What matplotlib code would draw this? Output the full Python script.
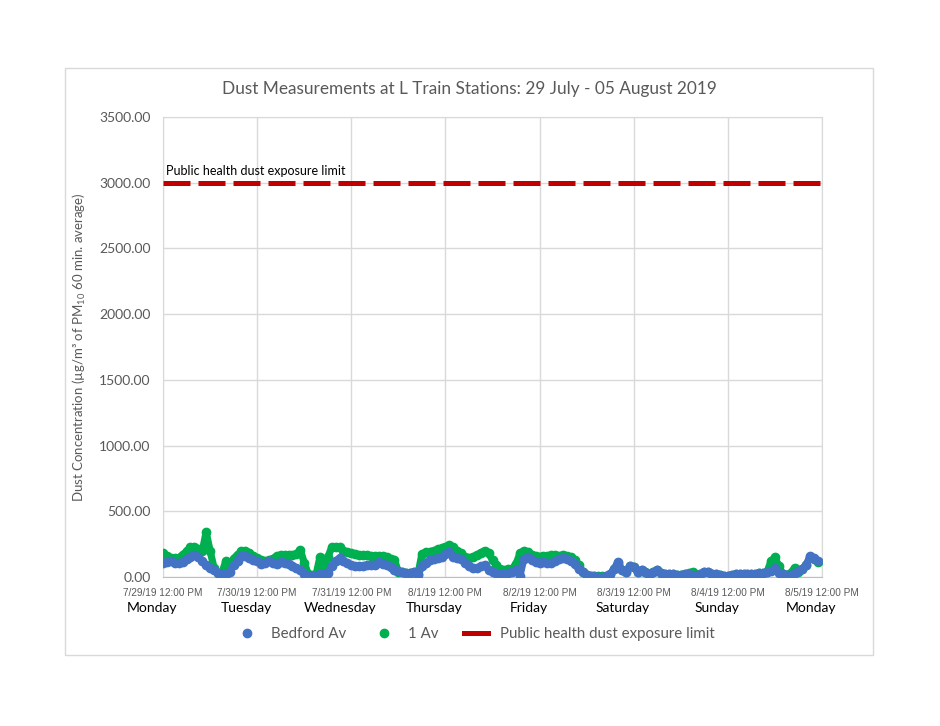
import matplotlib
matplotlib.use("Agg")
import matplotlib.pyplot as plt
import matplotlib.transforms as mtransforms
from matplotlib.lines import Line2D
from matplotlib.patches import Rectangle
import pandas as pd

plt.rcParams["font.family"] = ["Lato", "DejaVu Sans"]
plt.rcParams["mathtext.fontset"] = "custom"
plt.rcParams["mathtext.rm"] = "Lato"
plt.rcParams["mathtext.it"] = "Lato:italic"

# hourly PM10 readings, starting 7/29/19 12:00 PM
bedford_av = [
    110, 115, 118, 110, 105, 115, 135, 155, 168, 150, 120, 92, 70, 50, 32, 22, 20, 40, 90, 125, 158, 160, 145, 130,
    120, 100, 105, 118, 105, 100, 115, 110, 100, 85, 70, 55, 20, 10, 8, 8, 25, 20, 30, 80, 125, 142, 125, 105,
    88, 85, 83, 85, 90, 92, 95, 112, 100, 90, 75, 55, 42, 35, 28, 32, 38, 18, 80, 110, 128, 135, 145, 155,
    175, 190, 155, 145, 135, 110, 85, 66, 70, 80, 90, 55, 35, 28, 25, 20, 30, 40, 50, 10, 140, 150, 130, 115,
    105, 115, 110, 105, 120, 135, 142, 140, 125, 100, 60, 38, 18, 10, 5, 3, 2, 5, 20, 60, 115, 50, 40, 80,
    75, 40, 55, 40, 18, 35, 52, 30, 25, 25, 20, 15, 18, 22, 25, 15, 10, 20, 38, 35, 25, 20, 15, 10,
    10, 15, 20, 20, 20, 22, 22, 25, 28, 30, 38, 45, 65, 30, 20, 18, 15, 30, 45, 60, 95, 160, 145, 120,
]
first_av = [
    180, 160, 145, 142, 145, 170, 195, 225, 230, 215, 195, 340, 200, 70, 30, 28, 120, 80, 140, 170, 195, 200, 185, 160,
    145, 130, 118, 130, 140, 160, 167, 167, 165, 167, 175, 205, 110, 25, 15, 15, 150, 60, 150, 225, 232, 228, 200, 190,
    180, 175, 170, 168, 165, 162, 160, 160, 158, 150, 140, 130, 40, 35, 30, 32, 38, 20, 175, 190, 193, 200, 210, 218,
    230, 240, 225, 200, 180, 150, 142, 155, 167, 185, 200, 180, 130, 90, 60, 53, 58, 62, 100, 180, 200, 190, 170, 160,
    155, 160, 158, 165, 165, 162, 168, 160, 150, 129, 90, 40, 15, 8, 5, 5, 5, 8, 22, 60, 110, 50, 40, 80,
    75, 40, 55, 40, 25, 35, 52, 30, 25, 25, 20, 15, 18, 22, 30, 40, 12, 20, 38, 35, 25, 20, 15, 10,
    10, 15, 20, 20, 20, 22, 22, 25, 28, 30, 40, 120, 150, 80, 25, 18, 30, 70, 40, 60, 95, 150, 135, 115,
]
limit_value = 3000
day_names = ["Monday", "Tuesday", "Wednesday", "Thursday", "Friday", "Saturday", "Sunday", "Monday"]

start = pd.Timestamp("2019-07-29 12:00")
times = pd.date_range(start, periods=len(bedford_av), freq="h")
tick_days = pd.date_range(start, periods=8, freq="D")

grey = "#595959"
grid = "#D9D9D9"

fig = plt.figure(figsize=(9.4, 7.26), dpi=100)
fig.patches.append(Rectangle((65 / 940, 1 - 655 / 726), 808 / 940, 587 / 726,
                             transform=fig.transFigure, fill=False,
                             edgecolor=grid, linewidth=1.0))
ax = fig.add_axes([163 / 940, 1 - 577 / 726, 659 / 940, 460 / 726])

ax.plot(times, first_av, color="#00B050", lw=5.2, marker="o", ms=6,
        solid_capstyle="round", solid_joinstyle="round", zorder=3)
ax.plot(times, bedford_av, color="#4472C4", lw=5.2, marker="o", ms=6,
        solid_capstyle="round", solid_joinstyle="round", zorder=4)
ax.plot([tick_days[0], tick_days[-1]], [limit_value, limit_value],
        color="#C00000", lw=3.6, dashes=(5.4, 1.6), zorder=5)
ax.text(tick_days[0] + pd.Timedelta(hours=0.8), limit_value + 40,
        "Public health dust exposure limit", fontsize=9, color="black", va="bottom")

ax.set_xlim(tick_days[0], tick_days[-1])
ax.set_ylim(0, 3500)
ax.set_yticks(range(0, 3501, 500))
ax.set_yticklabels([f"{v:.2f}" for v in range(0, 3501, 500)])
ax.set_xticks(tick_days)
ax.set_xticklabels([f"{d.month}/{d.day}/{d:%y} 12:00 PM" for d in tick_days],
                   family="Liberation Sans", fontsize=7.2)
ax.tick_params(axis="both", length=0, colors=grey)
ax.tick_params(axis="x", pad=8)
ax.tick_params(axis="y", pad=9, labelsize=10)
ax.grid(True, color=grid, lw=1.0)
ax.set_axisbelow(True)
for s in ax.spines.values():
    s.set_color(grid)
ax.spines["bottom"].set_color("#BFBFBF")

ax.set_ylabel("Dust Concentration (µg/m³ of PM$_{10}$ 60 min. average)",
              fontsize=9.5, color=grey, labelpad=8)

shift = mtransforms.offset_copy(ax.get_xaxis_transform(), fig=fig, x=-11, y=0, units="dots")
for d, name in zip(tick_days, day_names):
    ax.text(d, -0.067, name, transform=shift, ha="center", va="center",
            fontsize=10, color="black")

fig.text(469 / 940, 1 - 89 / 726,
         "Dust Measurements at L Train Stations: 29 July - 05 August 2019",
         ha="center", va="center", fontsize=12.4, color=grey)

handles = [
    Line2D([], [], color="#4472C4", marker="o", ls="none", ms=6),
    Line2D([], [], color="#00B050", marker="o", ls="none", ms=6),
    Line2D([], [], color="#C00000", lw=3.6),
]
fig.legend(handles, ["Bedford Av", "1 Av", "Public health dust exposure limit"],
           loc="center", bbox_to_anchor=(475 / 940, 1 - 634 / 726), ncol=3,
           frameon=False, fontsize=10.8, labelcolor=grey, columnspacing=1.7,
           handlelength=1.6, handletextpad=0.8)

fig.savefig("out.png", dpi=100)
